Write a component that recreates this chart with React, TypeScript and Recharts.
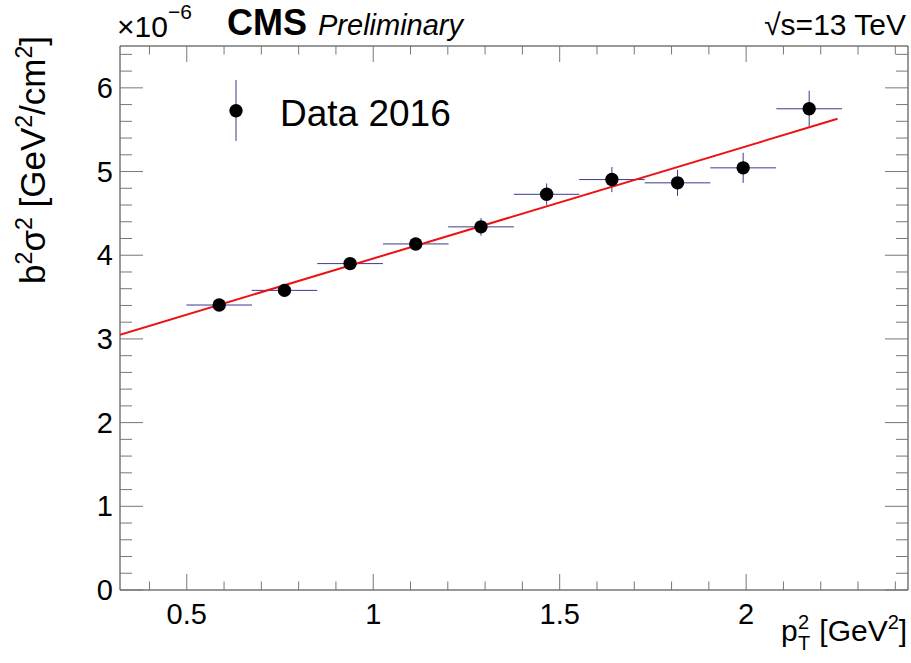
import { ComposedChart, Scatter, XAxis, YAxis, ErrorBar, Legend } from "recharts";

// b²σ² vs p_T² bins (values ×10⁻⁶)
const ptSqCenters = [0.587, 0.762, 0.938, 1.114, 1.289, 1.465, 1.64, 1.816, 1.992, 2.169];
const ptSqHalfWidth = [0.088, 0.088, 0.088, 0.088, 0.088, 0.088, 0.088, 0.088, 0.088, 0.088];
const b2sigma2 = [3.405, 3.58, 3.9, 4.135, 4.339, 4.728, 4.904, 4.865, 5.044, 5.75];
const b2sigma2Err = [0.04, 0.045, 0.05, 0.075, 0.105, 0.13, 0.15, 0.155, 0.18, 0.215];

// linear fit, end points
const fitX = [0.321, 2.245];
const fitY = [3.05, 5.63];

const X_DOMAIN: [number, number] = [0.321, 2.434];
const Y_DOMAIN: [number, number] = [0, 6.5];
const xTicks = [0.4, 0.5, 0.6, 0.7, 0.8, 0.9, 1, 1.1, 1.2, 1.3, 1.4, 1.5, 1.6, 1.7, 1.8, 1.9, 2, 2.1, 2.2, 2.3, 2.4];
const xMajor = [0.5, 1, 1.5, 2];
const yTicks = Array.from({ length: 33 }, (_, i) => Math.round(i * 2) / 10);

const W = 911;
const H = 663;
const FONT = "'Liberation Sans', Arial, Helvetica, sans-serif";
const FRAME = "#333";
const TICK = "#777";
const ERR = "#3a3a94";

const points = ptSqCenters.map((x, i) => ({
  x,
  y: b2sigma2[i],
  ex: ptSqHalfWidth[i],
  ey: b2sigma2Err[i],
}));
const fitPoints = fitX.map((x, i) => ({ x, y: fitY[i] }));

const isMajorX = (v: number) => xMajor.includes(v);
const isMajorY = (v: number) => Number.isInteger(v);

function BottomTick(props: any) {
  const { x, y, payload } = props;
  const major = isMajorX(payload.value);
  return (
    <g>
      <line x1={x} y1={y} x2={x} y2={y - (major ? 16 : 8.5)} stroke={TICK} strokeWidth={1} />
      {major && (
        <text x={x} y={y + 34} textAnchor="middle" fontSize={29} fontFamily={FONT} fill="#000">
          {String(payload.value)}
        </text>
      )}
    </g>
  );
}

function TopTick(props: any) {
  const { x, y, payload } = props;
  const major = isMajorX(payload.value);
  return <line x1={x} y1={y} x2={x} y2={y + (major ? 16 : 8.5)} stroke={TICK} strokeWidth={1} />;
}

function LeftTick(props: any) {
  const { x, y, payload } = props;
  const major = isMajorY(payload.value);
  return (
    <g>
      <line x1={x} y1={y} x2={x + (major ? 23 : 12)} y2={y} stroke={TICK} strokeWidth={1} />
      {major && (
        <text x={x - 7} y={y + 10} textAnchor="end" fontSize={29} fontFamily={FONT} fill="#000">
          {String(payload.value)}
        </text>
      )}
    </g>
  );
}

function RightTick(props: any) {
  const { x, y, payload } = props;
  const major = isMajorY(payload.value);
  return <line x1={x} y1={y} x2={x - (major ? 23 : 12)} y2={y} stroke={TICK} strokeWidth={1} />;
}

function LegendBox() {
  return (
    <svg width={300} height={70} style={{ display: "block" }}>
      <line x1={36} y1={5} x2={36} y2={66} stroke={ERR} strokeWidth={1} />
      <circle cx={36} cy={35.7} r={6.7} fill="#000" />
      <text x={80} y={51} fontSize={37} fontFamily={FONT} fill="#000">
        Data 2016
      </text>
    </svg>
  );
}

export default function App() {
  return (
    <div style={{ position: "relative", width: W, height: H, background: "#fff" }}>
      <style>{"body{margin:0}"}</style>
      <ComposedChart width={W} height={H} margin={{ top: 0, right: 0, bottom: 0, left: 0 }}>
        <XAxis
          xAxisId="b"
          orientation="bottom"
          type="number"
          dataKey="x"
          domain={X_DOMAIN}
          allowDataOverflow
          ticks={xTicks}
          interval={0}
          height={73}
          tickSize={0}
          tickMargin={0}
          tickLine={false}
          axisLine={{ stroke: FRAME }}
          tick={<BottomTick />}
        />
        <XAxis
          xAxisId="t"
          orientation="top"
          type="number"
          dataKey="x"
          domain={X_DOMAIN}
          allowDataOverflow
          ticks={xTicks}
          interval={0}
          height={46}
          tickSize={0}
          tickMargin={0}
          tickLine={false}
          axisLine={{ stroke: FRAME }}
          tick={<TopTick />}
        />
        <YAxis
          yAxisId="l"
          orientation="left"
          type="number"
          dataKey="y"
          domain={Y_DOMAIN}
          allowDataOverflow
          ticks={yTicks}
          interval={0}
          width={120}
          tickSize={0}
          tickMargin={0}
          tickLine={false}
          axisLine={{ stroke: FRAME }}
          tick={<LeftTick />}
        />
        <YAxis
          yAxisId="r"
          orientation="right"
          type="number"
          dataKey="y"
          domain={Y_DOMAIN}
          allowDataOverflow
          ticks={yTicks}
          interval={0}
          width={3}
          tickSize={0}
          tickMargin={0}
          tickLine={false}
          axisLine={{ stroke: FRAME }}
          tick={<RightTick />}
        />
        <Legend
          layout="horizontal"
          verticalAlign="middle"
          align="center"
          wrapperStyle={{ left: 200, top: 75, width: 300, height: 70 }}
          content={() => <LegendBox />}
        />
        <Scatter
          xAxisId="t"
          yAxisId="r"
          data={fitPoints}
          line={{ stroke: "#ee1111", strokeWidth: 2 }}
          shape={() => <g />}
          legendType="none"
          isAnimationActive={false}
        />
        <Scatter
          xAxisId="b"
          yAxisId="l"
          name="Data 2016"
          data={points}
          shape={(p: any) => <circle cx={p.cx} cy={p.cy} r={6.7} fill="#000" />}
          isAnimationActive={false}
        >
          <ErrorBar dataKey="ex" direction="x" width={0} stroke={ERR} strokeWidth={1} isAnimationActive={false} />
          <ErrorBar dataKey="ey" direction="y" width={0} stroke={ERR} strokeWidth={1} isAnimationActive={false} />
        </Scatter>
      </ComposedChart>

      <svg
        width={W}
        height={H}
        style={{ position: "absolute", left: 0, top: 0, pointerEvents: "none" }}
        fontFamily={FONT}
      >
        <text x={117} y={37} fontSize={30} fill="#000">
          ×10
          <tspan dy={-18} fontSize={21}>
            −6
          </tspan>
        </text>
        <text x={227} y={35} fontSize={36} fontWeight="bold" fill="#000">
          CMS
        </text>
        <text x={318} y={35} fontSize={29} fontStyle="italic" fill="#000">
          Preliminary
        </text>
        <text x={906} y={35} fontSize={30} textAnchor="end" fill="#000">
          √s=13 TeV
        </text>
        <text transform="translate(45,36) rotate(-90)" x={0} y={0} textAnchor="end" fontSize={35} fill="#000">
          b
          <tspan dy={-13} fontSize={23}>2</tspan>
          <tspan dy={13}>σ</tspan>
          <tspan dy={-13} fontSize={23}>2</tspan>
          <tspan dy={13}> [GeV</tspan>
          <tspan dy={-13} fontSize={23}>2</tspan>
          <tspan dy={13}>/cm</tspan>
          <tspan dy={-13} fontSize={23}>2</tspan>
          <tspan dy={13}>]</tspan>
        </text>
        <text x={781} y={641} fontSize={30} fill="#000">
          p
          <tspan x={798} dy={-12} fontSize={20}>2</tspan>
          <tspan x={798} dy={21} fontSize={20}>T</tspan>
          <tspan x={811} dy={-9}> [GeV</tspan>
          <tspan dy={-12} fontSize={20}>2</tspan>
          <tspan dy={12}>]</tspan>
        </text>
      </svg>
    </div>
  );
}
